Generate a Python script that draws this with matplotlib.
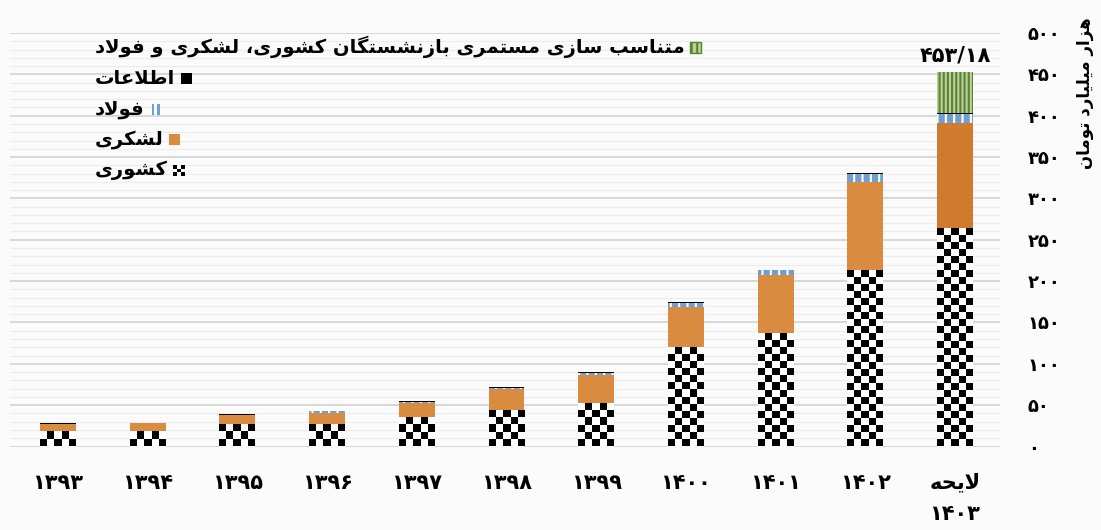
import numpy as np
import matplotlib
matplotlib.use("Agg")
import matplotlib.pyplot as plt
from matplotlib.patches import Rectangle
from matplotlib.offsetbox import AnchoredOffsetbox, VPacker, HPacker, TextArea, DrawingArea

# values in thousand billion toman
years = ["۱۳۹۳", "۱۳۹۴", "۱۳۹۵", "۱۳۹۶", "۱۳۹۷", "۱۳۹۸", "۱۳۹۹", "۱۴۰۰", "۱۴۰۱", "۱۴۰۲", "لایحه\n۱۴۰۳"]
kishvari = [12, 13, 20, 22, 28, 39, 49, 111, 130, 205, 256]
lashkari = [15, 15, 18, 19, 24, 30, 38, 58, 77, 115, 135]
fulad = [0, 0, 0, 1.5, 1.5, 1.5, 1.5, 5, 6, 10, 11]
etelaat = [1, 1, 1.5, 1, 1, 1, 1, 1, 1, 1, 1.5]
motenaseb = [0, 0, 0, 0, 0, 0, 0, 0, 0, 0, 49.68]

series_names = ["کشوری", "لشکری", "فولاد", "اطلاعات", "متناسب سازی مستمری بازنشستگان کشوری، لشکری و فولاد"]
y_ticks = [0, 50, 100, 150, 200, 250, 300, 350, 400, 450, 500]
y_title = "هزار میلیارد تومان"

# --- minimal Persian shaping (matplotlib has no RTL / joining support) ---
FORMS = {  # isolated, final, initial, medial
    "ا": ("\uFE8D", "\uFE8E", None, None),
    "ب": ("\uFE8F", "\uFE90", "\uFE91", "\uFE92"),
    "ت": ("\uFE95", "\uFE96", "\uFE97", "\uFE98"),
    "ح": ("\uFEA1", "\uFEA2", "\uFEA3", "\uFEA4"),
    "د": ("\uFEA9", "\uFEAA", None, None),
    "ر": ("\uFEAD", "\uFEAE", None, None),
    "ز": ("\uFEAF", "\uFEB0", None, None),
    "س": ("\uFEB1", "\uFEB2", "\uFEB3", "\uFEB4"),
    "ش": ("\uFEB5", "\uFEB6", "\uFEB7", "\uFEB8"),
    "ط": ("\uFEC1", "\uFEC2", "\uFEC3", "\uFEC4"),
    "ع": ("\uFEC9", "\uFECA", "\uFECB", "\uFECC"),
    "ف": ("\uFED1", "\uFED2", "\uFED3", "\uFED4"),
    "ل": ("\uFEDD", "\uFEDE", "\uFEDF", "\uFEE0"),
    "م": ("\uFEE1", "\uFEE2", "\uFEE3", "\uFEE4"),
    "ن": ("\uFEE5", "\uFEE6", "\uFEE7", "\uFEE8"),
    "ه": ("\uFEE9", "\uFEEA", "\uFEEB", "\uFEEC"),
    "و": ("\uFEED", "\uFEEE", None, None),
    "ی": ("\uFBFC", "\uFBFD", "\uFBFE", "\uFBFF"),
    "ک": ("\uFB8E", "\uFB8F", "\uFB90", "\uFB91"),
    "گ": ("\uFB92", "\uFB93", "\uFB94", "\uFB95"),
    "LA": ("\uFEFB", "\uFEFC", None, None),
}
FA_DIGITS = str.maketrans("0123456789", "۰۱۲۳۴۵۶۷۸۹")


def shape_line(text):
    tokens = []
    i = 0
    while i < len(text):
        if text[i] == "ل" and i + 1 < len(text) and text[i + 1] == "ا":
            tokens.append("LA")
            i += 2
        else:
            tokens.append(text[i])
            i += 1
    out = []
    for k, t in enumerate(tokens):
        if t not in FORMS:
            out.append(t)
            continue
        prev = tokens[k - 1] if k > 0 else None
        nxt = tokens[k + 1] if k + 1 < len(tokens) else None
        join_prev = prev in FORMS and FORMS[prev][2] is not None
        join_next = FORMS[t][2] is not None and nxt in FORMS
        if join_prev and join_next:
            out.append(FORMS[t][3])
        elif join_prev:
            out.append(FORMS[t][1])
        elif join_next:
            out.append(FORMS[t][2])
        else:
            out.append(FORMS[t][0])
    if any(c in FORMS for c in tokens):
        return "".join(reversed(out))
    return "".join(out)


def fa(text):
    return "\n".join(shape_line(line) for line in text.split("\n"))


plt.rcParams["font.family"] = ["DejaVu Sans"]
plt.rcParams["hatch.linewidth"] = 1.5

orange = "#D98C40"
orange_last = "#CF7A2C"
fulad_blue = "#6E9FD2"
green_dark = "#5A8435"
green_light = "#BCD09A"
grid_major = "#d2d2d2"
grid_minor = "#ececec"

fig = plt.figure(figsize=(11.01, 5.30), dpi=100, facecolor="#fbfbfb")
ax = fig.add_axes([10 / 1101, 1 - 446.5 / 530, 990 / 1101, 413.5 / 530])
ax.set_facecolor("#fbfbfb")

x = np.arange(len(years))
width = 0.4
bottom = np.zeros(len(years))

kis_bars = ax.bar(x, kishvari, width, bottom=bottom, color="white", linewidth=0, zorder=2)
bottom += kishvari
lash_colors = [orange] * (len(years) - 1) + [orange_last]
ax.bar(x, lashkari, width, bottom=bottom, color=lash_colors, linewidth=0, zorder=2)
bottom += lashkari
ax.bar(x, fulad, width, bottom=bottom, facecolor=fulad_blue, edgecolor="white",
       hatch="||", linewidth=0, zorder=2)
bottom += fulad
ax.bar(x, etelaat, width, bottom=bottom, color="black", linewidth=0, zorder=2)
bottom += etelaat
ax.bar(x, motenaseb, width, bottom=bottom, facecolor=green_light, edgecolor=green_dark,
       hatch="||||", linewidth=0, zorder=2)
bottom += motenaseb

# checkerboard fill for the کشوری segment, clipped to each bar
cell_h = 8.5
for bar in kis_bars:
    bx, bw, bh = bar.get_x(), bar.get_width(), bar.get_height()
    nrows = int(np.ceil(bh / cell_h))
    checker = np.indices((nrows, 5)).sum(axis=0) % 2
    ax.imshow(checker, cmap="gray", extent=(bx, bx + bw, 0, nrows * cell_h), origin="lower",
              aspect="auto", interpolation="nearest", clip_path=bar, zorder=3)

# total on the last bar
total_last = bottom[-1]
ax.text(x[-1], total_last + 8, f"{total_last:.2f}".replace(".", "/").translate(FA_DIGITS),
        ha="center", va="bottom", fontsize=15, fontweight="bold")

ax.set_xlim(-48 / 89.7, len(years) - 1 + 45 / 89.7)
ax.set_ylim(0, 500)
ax.set_yticks(y_ticks)
ax.set_yticks(np.arange(0, 501, 10), minor=True)
ax.set_yticklabels([str(v).translate(FA_DIGITS) for v in y_ticks], fontsize=13, fontweight="bold")
ax.yaxis.tick_right()
ax.tick_params(axis="y", which="both", length=0, pad=20)
ax.set_xticks(x)
ax.set_xticklabels([fa(y) for y in years], fontsize=15, fontweight="bold", linespacing=1.7, va="top")
ax.tick_params(axis="x", length=0, pad=19)
ax.grid(axis="y", which="major", color=grid_major, linewidth=1.2, zorder=0)
ax.grid(axis="y", which="minor", color=grid_minor, linewidth=0.8, zorder=0)
for s in ax.spines.values():
    s.set_visible(False)
ax.set_axisbelow(True)

fig.text(1085 / 1101, 1 - 93 / 530, fa(y_title), rotation=90, ha="center", va="center",
         fontsize=12, fontweight="bold")

# legend: text first, symbol after it, rows left aligned (right-to-left style)
def symbol(kind):
    da = DrawingArea(8, 8, 0, 0)
    if kind == 0:
        c = 8 / 3
        for r in range(3):
            for q in range(3):
                if (r + q) % 2 == 0:
                    da.add_artist(Rectangle((q * c, r * c), c, c, color="black", lw=0))
    elif kind == 1:
        da.add_artist(Rectangle((0, 0), 8, 8, color=orange, lw=0))
    elif kind == 2:
        da.add_artist(Rectangle((1, 0), 2, 8, color=fulad_blue, lw=0))
        da.add_artist(Rectangle((5, 0), 2, 8, color=fulad_blue, lw=0))
    elif kind == 3:
        da.add_artist(Rectangle((0, 0), 8, 8, color="black", lw=0))
    else:
        da.add_artist(Rectangle((0, 0), 8, 8, facecolor=green_light, edgecolor=green_dark,
                                hatch="|||", lw=1))
    return da


rows = []
for k in reversed(range(len(series_names))):
    label = TextArea(fa(series_names[k]), textprops=dict(fontsize=14, fontweight="bold"))
    rows.append(HPacker(children=[label, symbol(k)], align="center", pad=0, sep=4))
legend_box = VPacker(children=rows, align="left", pad=0, sep=8)
ax.add_artist(AnchoredOffsetbox(loc="upper left", child=legend_box, frameon=False, pad=0,
                                borderpad=0, bbox_to_anchor=(95 / 1101, 1 - 36 / 530),
                                bbox_transform=fig.transFigure))

fig.savefig("out.png", dpi=100, facecolor=fig.get_facecolor())
